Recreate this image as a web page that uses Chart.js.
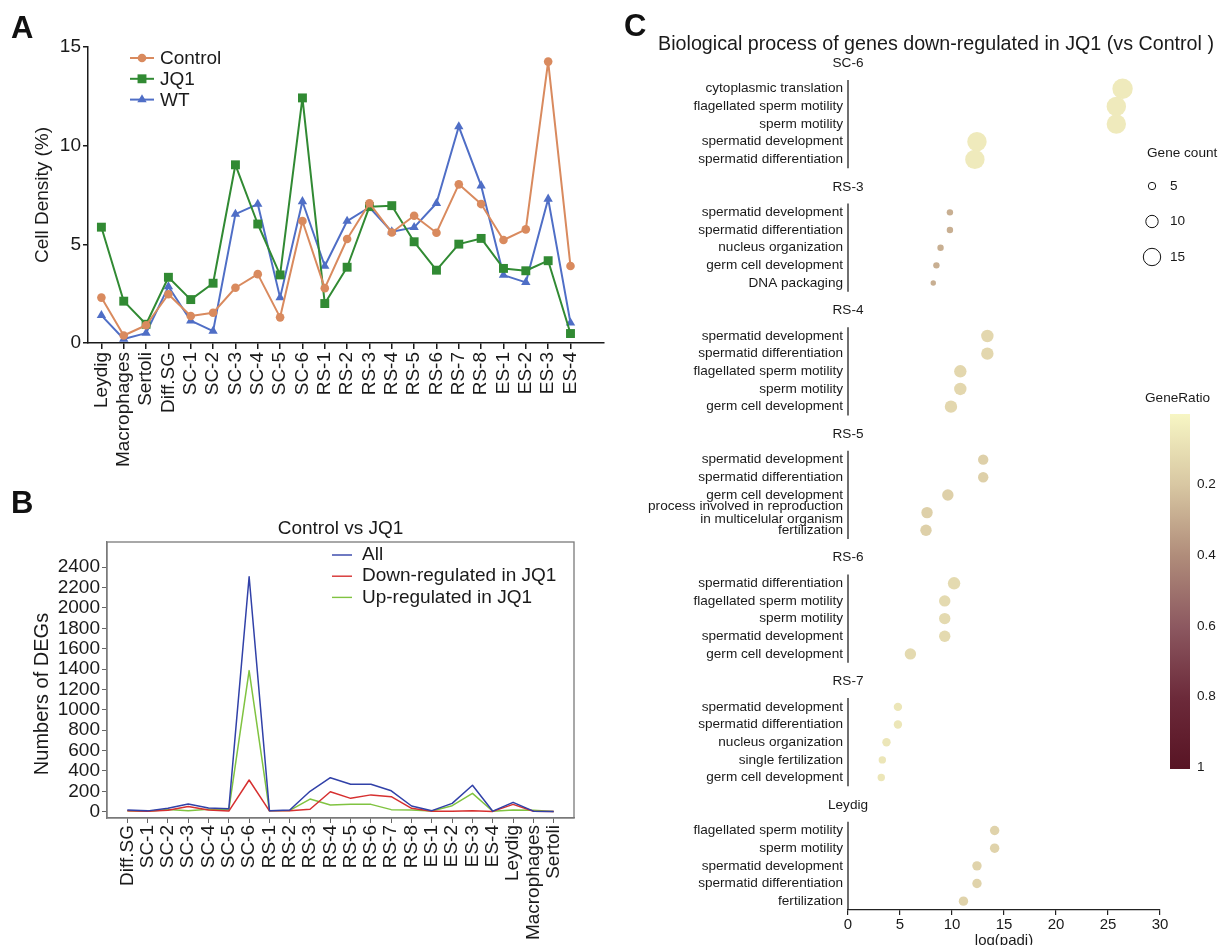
<!DOCTYPE html>
<html>
<head>
<meta charset="utf-8">
<script src="https://cdn.jsdelivr.net/npm/chart.js@4.4.0/dist/chart.umd.min.js"></script>
<style>
  body { margin: 0; background: #fff; width: 1218px; height: 945px; overflow: hidden; position: relative; }
  .panel { position: absolute; }
  .letter { position: absolute; font-family: 'Liberation Sans', Arial, sans-serif; font-weight: bold; font-size: 31px; line-height: 1; color: #111; }
</style>
</head>
<body>
<div class="panel" style="left:0;top:0;width:620px;height:470px"><canvas id="chartA"></canvas></div>
<div class="panel" style="left:0;top:470px;width:620px;height:475px"><canvas id="chartB"></canvas></div>
<div class="panel" style="left:630px;top:0;width:588px;height:945px"><canvas id="chartC"></canvas></div>
<div class="letter" style="left:11px;top:12px">A</div>
<div class="letter" style="left:11px;top:487px">B</div>
<div class="letter" style="left:624px;top:10px">C</div>
<script>
// ---- panel A : cell density ----
const cellTypesA = ['Leydig', 'Macrophages', 'Sertoli', 'Diff.SG', 'SC-1', 'SC-2', 'SC-3', 'SC-4', 'SC-5', 'SC-6',
  'RS-1', 'RS-2', 'RS-3', 'RS-4', 'RS-5', 'RS-6', 'RS-7', 'RS-8', 'ES-1', 'ES-2', 'ES-3', 'ES-4'];
const densityControl = [2.3, 0.38, 0.9, 2.47, 1.37, 1.53, 2.8, 3.49, 1.3, 6.18, 2.78, 5.27, 7.08, 5.6, 6.45, 5.59, 8.04, 7.04, 5.22, 5.76, 14.26, 3.9];
const densityJQ1 = [5.87, 2.12, 0.95, 3.33, 2.2, 3.03, 9.03, 6.03, 3.45, 12.42, 2.0, 3.84, 6.91, 6.96, 5.13, 3.69, 5.01, 5.3, 3.78, 3.66, 4.17, 0.48];
const densityWT = [1.4, 0.2, 0.5, 2.86, 1.13, 0.6, 6.53, 7.04, 2.3, 7.17, 3.9, 6.18, 6.88, 5.64, 5.86, 7.08, 10.97, 7.97, 3.44, 3.07, 7.3, 1.02];
const densityTicks = [0, 5, 10, 15];

// ---- panel B : numbers of DEGs ----
const cellTypesB = ['Diff.SG', 'SC-1', 'SC-2', 'SC-3', 'SC-4', 'SC-5', 'SC-6', 'RS-1', 'RS-2', 'RS-3', 'RS-4', 'RS-5',
  'RS-6', 'RS-7', 'RS-8', 'ES-1', 'ES-2', 'ES-3', 'ES-4', 'Leydig', 'Macrophages', 'Sertoli'];
const degAll = [16, 8, 33, 75, 36, 30, 2307, 10, 16, 200, 334, 269, 269, 205, 56, 10, 82, 259, 5, 92, 5, 3];
const degDown = [10, 5, 15, 50, 16, 6, 311, 8, 10, 24, 196, 131, 165, 147, 33, 4, 4, 8, 3, 72, 5, 3];
const degUp = [10, 4, 22, 8, 24, 18, 1385, 8, 12, 124, 66, 73, 72, 20, 17, 7, 59, 180, 4, 17, 14, 3];
const degTicks = [0, 200, 400, 600, 800, 1000, 1200, 1400, 1600, 1800, 2000, 2200, 2400];

// ---- panel C : GO enrichment ----
const groupsC = ['SC-6', 'RS-3', 'RS-4', 'RS-5', 'RS-6', 'RS-7', 'Leydig'];
const termsC = [
  ['cytoplasmic translation', 'flagellated sperm motility', 'sperm motility', 'spermatid development', 'spermatid differentiation'],
  ['spermatid development', 'spermatid differentiation', 'nucleus organization', 'germ cell development', 'DNA packaging'],
  ['spermatid development', 'spermatid differentiation', 'flagellated sperm motility', 'sperm motility', 'germ cell development'],
  ['spermatid development', 'spermatid differentiation', 'germ cell development', 'process involved in reproduction\nin multicelular organism', 'fertilization'],
  ['spermatid differentiation', 'flagellated sperm motility', 'sperm motility', 'spermatid development', 'germ cell development'],
  ['spermatid development', 'spermatid differentiation', 'nucleus organization', 'single fertilization', 'germ cell development'],
  ['flagellated sperm motility', 'sperm motility', 'spermatid development', 'spermatid differentiation', 'fertilization']
];
const logPadjC = [
  [26.4, 25.8, 25.8, 12.4, 12.2],
  [9.8, 9.8, 8.9, 8.5, 8.2],
  [13.4, 13.4, 10.8, 10.8, 9.9],
  [13.0, 13.0, 9.6, 7.6, 7.5],
  [10.2, 9.3, 9.3, 9.3, 6.0],
  [4.8, 4.8, 3.7, 3.3, 3.2],
  [14.1, 14.1, 12.4, 12.4, 11.1]
];
const geneCountC = [
  [18, 17, 17, 17, 17],
  [4, 4, 4, 4, 3],
  [10, 10, 10, 10, 10],
  [8, 8, 9, 9, 9],
  [10, 9, 9, 9, 9],
  [6, 6, 6, 5, 5],
  [7, 7, 7, 7, 7]
];
const geneRatioC = [
  [0.05, 0.05, 0.05, 0.05, 0.05],
  [0.28, 0.28, 0.28, 0.28, 0.28],
  [0.13, 0.13, 0.13, 0.13, 0.13],
  [0.16, 0.16, 0.16, 0.16, 0.16],
  [0.12, 0.12, 0.12, 0.12, 0.12],
  [0.07, 0.07, 0.07, 0.07, 0.07],
  [0.15, 0.15, 0.15, 0.15, 0.15]
];
const countLegend = [5, 10, 15];
const ratioTicks = [0.2, 0.4, 0.6, 0.8, 1];

const FONT = "'Liberation Sans', Arial, Helvetica, sans-serif";
const INK = '#1a1a1a';

function txt(ctx, s, x, y, size, opt = {}) {
  ctx.save();
  ctx.font = size + 'px ' + FONT;
  ctx.fillStyle = opt.color || INK;
  ctx.textAlign = opt.align || 'left';
  ctx.textBaseline = opt.baseline || 'middle';
  ctx.translate(x, y);
  if (opt.rotate) ctx.rotate(opt.rotate);
  ctx.fillText(s, 0, 0);
  ctx.restore();
}

// ================= A =================
const seriesA = [
  { label: 'Control', values: densityControl, color: '#d98a5e', style: 'circle', radius: 4.3 },
  { label: 'JQ1', values: densityJQ1, color: '#318a33', style: 'rect', radius: 6.3 },
  { label: 'WT', values: densityWT, color: '#4f6ec6', style: 'triangle', radius: 5.4 }
];

const legendA = {
  id: 'legendA',
  afterDraw(chart) {
    const ctx = chart.ctx;
    seriesA.forEach((s, i) => {
      const y = 58 + i * 20.8;
      ctx.save();
      ctx.strokeStyle = s.color;
      ctx.lineWidth = 2;
      ctx.beginPath(); ctx.moveTo(130, y); ctx.lineTo(154, y); ctx.stroke();
      ctx.fillStyle = s.color;
      Chart.helpers.drawPoint(ctx, { pointStyle: s.style, radius: s.radius, borderWidth: 0 }, 142, y);
      ctx.restore();
      txt(ctx, s.label, 160, y + 1, 19);
    });
    txt(ctx, 'Cell Density (%)', 43, 195, 19, { align: 'center', rotate: -Math.PI / 2 });
  }
};

new Chart(document.getElementById('chartA'), {
  type: 'line',
  data: {
    datasets: seriesA.map(s => ({
      label: s.label,
      data: cellTypesA.map((c, i) => ({ x: i, y: s.values[i] })),
      borderColor: s.color,
      backgroundColor: s.color,
      pointStyle: s.style,
      pointRadius: s.radius,
      pointBorderWidth: 0,
      borderWidth: 2,
      borderJoinStyle: 'round',
      tension: 0,
      clip: false
    }))
  },
  options: {
    responsive: true,
    maintainAspectRatio: false,
    animation: false,
    layout: { padding: { left: 0, right: 16, top: 47, bottom: 0 } },
    plugins: { legend: { display: false }, tooltip: { enabled: false } },
    scales: {
      x: {
        type: 'linear', min: -0.6, max: 22.5,
        afterBuildTicks: s => { s.ticks = cellTypesA.map((_, i) => ({ value: i })); },
        afterFit: s => { s.height = 127; },
        ticks: { autoSkip: false, minRotation: 90, maxRotation: 90, padding: 3, color: INK,
          font: { family: FONT, size: 19 }, callback: v => cellTypesA[v] },
        grid: { drawOnChartArea: false, color: INK, lineWidth: 1.5, tickLength: 6 },
        border: { color: INK, width: 1.5 }
      },
      y: {
        min: 0, max: 15,
        afterBuildTicks: s => { s.ticks = densityTicks.map(v => ({ value: v })); },
        afterFit: s => { s.width = 88; },
        ticks: { padding: 2, color: INK, font: { family: FONT, size: 19 }, callback: v => String(v) },
        grid: { drawOnChartArea: false, color: INK, lineWidth: 1.5, tickLength: 5 },
        border: { color: INK, width: 1.5 }
      }
    }
  },
  plugins: [legendA]
});

// ================= B =================
const seriesB = [
  { label: 'All', values: degAll, color: '#3141a8' },
  { label: 'Down-regulated in JQ1', values: degDown, color: '#d63030' },
  { label: 'Up-regulated in JQ1', values: degUp, color: '#80c341' }
];

const decorB = {
  id: 'decorB',
  afterDraw(chart) {
    const ctx = chart.ctx;
    const a = chart.chartArea;
    ctx.save();
    ctx.strokeStyle = '#7a7a7a';
    ctx.lineWidth = 1.3;
    ctx.strokeRect(a.left, a.top, a.right - a.left, a.bottom - a.top);
    ctx.restore();
    seriesB.forEach((s, i) => {
      const y = 85 + i * 21.2;
      ctx.save();
      ctx.strokeStyle = s.color;
      ctx.lineWidth = 1.4;
      ctx.beginPath(); ctx.moveTo(332, y); ctx.lineTo(352, y); ctx.stroke();
      ctx.restore();
      txt(ctx, s.label, 362, y, 19);
    });
    txt(ctx, 'Control vs JQ1', (a.left + a.right) / 2, 59, 19, { align: 'center' });
    txt(ctx, 'Numbers of DEGs', 42, 224, 20, { align: 'center', rotate: -Math.PI / 2 });
  }
};

new Chart(document.getElementById('chartB'), {
  type: 'line',
  data: {
    datasets: seriesB.map(s => ({
      label: s.label,
      data: cellTypesB.map((c, i) => ({ x: i, y: s.values[i] })),
      borderColor: s.color,
      borderWidth: 1.5,
      borderJoinStyle: 'round',
      pointRadius: 0,
      tension: 0
    }))
  },
  options: {
    responsive: true,
    maintainAspectRatio: false,
    animation: false,
    layout: { padding: { left: 0, right: 46, top: 72, bottom: 0 } },
    plugins: { legend: { display: false }, tooltip: { enabled: false } },
    scales: {
      x: {
        type: 'linear', min: -1, max: 22,
        afterBuildTicks: s => { s.ticks = cellTypesB.map((_, i) => ({ value: i })); },
        afterFit: s => { s.height = 127; },
        ticks: { autoSkip: false, minRotation: 90, maxRotation: 90, padding: 2, color: INK,
          font: { family: FONT, size: 19 }, callback: v => cellTypesB[v] },
        grid: { drawOnChartArea: false, color: '#666', lineWidth: 1, tickLength: 5 },
        border: { color: '#7a7a7a', width: 1.3 }
      },
      y: {
        min: -62, max: 2648,
        afterBuildTicks: s => { s.ticks = degTicks.map(v => ({ value: v })); },
        afterFit: s => { s.width = 107; },
        ticks: { autoSkip: false, padding: 2, color: INK, font: { family: FONT, size: 19 }, callback: v => String(v) },
        grid: { drawOnChartArea: false, color: '#666', lineWidth: 1, tickLength: 5 },
        border: { color: '#7a7a7a', width: 1.3 }
      }
    }
  },
  plugins: [decorB]
});

// ================= C =================
const ratioStops = [
  [0, [247, 246, 196]], [0.2, [216, 199, 162]], [0.4, [176, 140, 122]],
  [0.6, [140, 88, 96]], [0.8, [108, 42, 58]], [1, [88, 20, 36]]
];
function ratioColor(v) {
  for (let i = 1; i < ratioStops.length; i++) {
    const [v1, c1] = ratioStops[i];
    const [v0, c0] = ratioStops[i - 1];
    if (v <= v1) {
      const t = (v - v0) / (v1 - v0);
      return 'rgb(' + c0.map((c, k) => Math.round(c + (c1[k] - c) * t)).join(',') + ')';
    }
  }
  return 'rgb(88,20,36)';
}
const sizeOf = n => 1.2 + n * 0.5;
const SECTION = 7, FIRST = 1.45;

const rowPos = [];
const rowLabels = [];
const bubbles = [];
groupsC.forEach((g, s) => termsC[s].forEach((t, r) => {
  const pos = s * SECTION + FIRST + r;
  rowPos.push(pos);
  rowLabels.push(t);
  bubbles.push({ x: logPadjC[s][r], y: pos, r: sizeOf(geneCountC[s][r]), ratio: geneRatioC[s][r] });
}));

const decorC = {
  id: 'decorC',
  afterDraw(chart) {
    const ctx = chart.ctx;
    const a = chart.chartArea;
    const ys = chart.scales.y;
    txt(ctx, 'Biological process of genes down-regulated in JQ1 (vs Control )', 306, 45, 19.7, { align: 'center' });
    groupsC.forEach((g, s) => {
      txt(ctx, g, a.left, ys.getPixelForValue(s * SECTION), 13.6, { align: 'center' });
      ctx.save();
      ctx.strokeStyle = '#222';
      ctx.lineWidth = 1.3;
      ctx.beginPath();
      ctx.moveTo(a.left, ys.getPixelForValue(s * SECTION + FIRST - 0.5));
      ctx.lineTo(a.left, ys.getPixelForValue(s * SECTION + FIRST + 4.5));
      ctx.stroke();
      ctx.restore();
    });
    // gene count legend
    txt(ctx, 'Gene count', 517, 153, 13.6);
    countLegend.forEach((n, i) => {
      const y = 186 + i * 35.5;
      ctx.save();
      ctx.strokeStyle = '#111';
      ctx.lineWidth = 1;
      ctx.beginPath(); ctx.arc(522, y, sizeOf(n), 0, Math.PI * 2); ctx.stroke();
      ctx.restore();
      txt(ctx, String(n), 540, y, 13.6);
    });
    // GeneRatio colour bar
    txt(ctx, 'GeneRatio', 515, 398, 13.6);
    const top = 414, bot = 769;
    const grad = ctx.createLinearGradient(0, top, 0, bot);
    ratioStops.forEach(([v]) => grad.addColorStop(v, ratioColor(v)));
    ctx.save();
    ctx.fillStyle = grad;
    ctx.fillRect(540, top, 20, bot - top);
    ctx.restore();
    ratioTicks.forEach(v => txt(ctx, String(v), 567, top + v * (bot - top - 2), 13.6));
    txt(ctx, 'log(padj)', (a.left + a.right) / 2, 941, 15, { align: 'center' });
  }
};

new Chart(document.getElementById('chartC'), {
  type: 'bubble',
  data: {
    datasets: [{
      data: bubbles,
      backgroundColor: ctx => ratioColor(ctx.raw ? ctx.raw.ratio : 0),
      borderWidth: 0,
      clip: false
    }]
  },
  options: {
    responsive: true,
    maintainAspectRatio: false,
    animation: false,
    layout: { padding: { left: 0, right: 58, top: 49, bottom: 0 } },
    plugins: { legend: { display: false }, tooltip: { enabled: false } },
    scales: {
      x: {
        type: 'linear', min: 0, max: 30,
        ticks: { stepSize: 5, padding: 1, color: INK, font: { family: FONT, size: 15 } },
        afterFit: s => { s.height = 35; },
        grid: { drawOnChartArea: false, color: '#222', lineWidth: 1.2, tickLength: 5 },
        border: { color: '#222', width: 1.3 }
      },
      y: {
        type: 'linear', reverse: true, min: -0.8, max: 47.95,
        afterBuildTicks: s => { s.ticks = rowPos.map(v => ({ value: v })); },
        afterFit: s => { s.width = 218; },
        ticks: { autoSkip: false, padding: 5, color: INK, font: { family: FONT, size: 13.6, lineHeight: 1.0 },
          callback: (v, i) => rowLabels[i].split('\n') },
        grid: { display: false, drawTicks: false },
        border: { display: false }
      }
    }
  },
  plugins: [decorC]
});
</script>
</body>
</html>
